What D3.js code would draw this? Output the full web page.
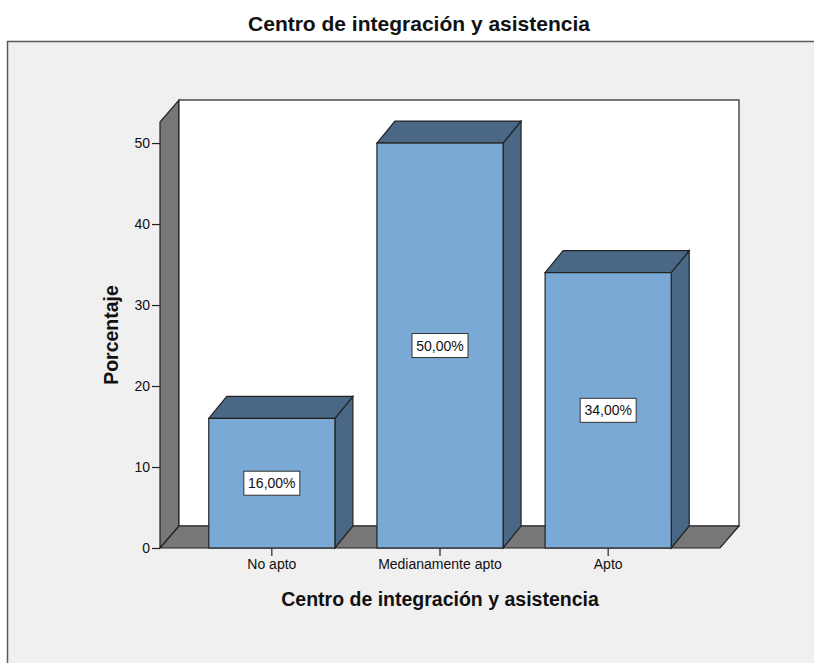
<!DOCTYPE html>
<html>
<head>
<meta charset="utf-8">
<script src="https://cdn.jsdelivr.net/npm/d3@7"></script>
<style>
  html, body { margin: 0; padding: 0; background: #ffffff; }
  svg { display: block; }
  text { font-family: "Liberation Sans", Arial, sans-serif; fill: #111; }
</style>
</head>
<body>
<script>
// Chart data
const categories = ["No apto", "Medianamente apto", "Apto"];
const percentages = [16, 50, 34];
const valueLabels = ["16,00%", "50,00%", "34,00%"];
const yTicks = [0, 10, 20, 30, 40, 50];
const chartTitle = "Centro de integración y asistencia";
const xTitle = "Centro de integración y asistencia";
const yTitle = "Porcentaje";

const W = 814, H = 663;
const svg = d3.select("body").append("svg").attr("width", W).attr("height", H);

// Outer panel
svg.append("rect").attr("x", 7.5).attr("y", 41.5).attr("width", 840).attr("height", 700)
  .attr("fill", "#f0f0f0").attr("stroke", "#5a5a5a").attr("stroke-width", 1.5);

// Title
svg.append("text").attr("x", 419).attr("y", 31).attr("text-anchor", "middle")
  .style("font-size", "21px").style("font-weight", "bold").text(chartTitle);

// Plot frame (front plane) and depth offset
const left = 160, right = 720, bottom = 548;
const depth = { dx: 19, dy: -22 };
const barDepth = { dx: 18, dy: -22 };

const y = d3.scaleLinear().domain([0, 52.6]).range([bottom, 122]);
const x = d3.scaleBand().domain(categories).range([left, right])
  .paddingInner(0.25).paddingOuter(0.29);

const stroke = "#222";
const line = d3.line();

// Left wall
svg.append("path")
  .attr("d", line([[left, y(0)], [left, y.range()[1]], [left + depth.dx, y.range()[1] + depth.dy], [left + depth.dx, y(0) + depth.dy]]) + "Z")
  .attr("fill", "#777777").attr("stroke", stroke).attr("stroke-width", 1.2);

// Back wall
svg.append("rect")
  .attr("x", left + depth.dx).attr("y", y.range()[1] + depth.dy)
  .attr("width", right - left).attr("height", y(0) - y.range()[1])
  .attr("fill", "#ffffff").attr("stroke", stroke).attr("stroke-width", 1.2);

// Floor
svg.append("path")
  .attr("d", line([[left, y(0)], [right, y(0)], [right + depth.dx, y(0) + depth.dy], [left + depth.dx, y(0) + depth.dy]]) + "Z")
  .attr("fill", "#777777").attr("stroke", stroke).attr("stroke-width", 1.2);

// Y axis
const yAxis = svg.append("g").attr("transform", `translate(${left},0)`)
  .call(d3.axisLeft(y).tickValues(yTicks).tickSize(8).tickPadding(2));
yAxis.select(".domain").remove();
yAxis.selectAll(".tick line").attr("stroke", "#222").attr("stroke-width", 1.2);
yAxis.selectAll(".tick text").style("font-size", "14px").style("font-family", "'Liberation Sans', Arial, sans-serif").attr("fill", "#222");

// X axis
const xAxis = svg.append("g").attr("transform", `translate(0,${bottom})`)
  .call(d3.axisBottom(x).tickSize(8).tickPadding(3));
xAxis.select(".domain").remove();
xAxis.selectAll(".tick line").attr("stroke", "#222").attr("stroke-width", 1.2);
xAxis.selectAll(".tick text").style("font-size", "14px").style("font-family", "'Liberation Sans', Arial, sans-serif").attr("fill", "#222");

// Bars
const bars = svg.append("g").selectAll("g").data(categories).join("g");
const frontColor = "#7ba9d6", shadeColor = "#4a6785";
bars.each(function (c, i) {
  const g = d3.select(this);
  const x0 = x(c), x1 = x(c) + x.bandwidth();
  const yt = y(percentages[i]), yb = y(0);
  const dx = barDepth.dx, dy = barDepth.dy;
  // side face
  g.append("path")
    .attr("d", line([[x1, yb], [x1, yt], [x1 + dx, yt + dy], [x1 + dx, yb + dy]]) + "Z")
    .attr("fill", shadeColor).attr("stroke", stroke).attr("stroke-width", 1.2);
  // top face
  g.append("path")
    .attr("d", line([[x0, yt], [x1, yt], [x1 + dx, yt + dy], [x0 + dx, yt + dy]]) + "Z")
    .attr("fill", shadeColor).attr("stroke", stroke).attr("stroke-width", 1.2);
  // front face
  g.append("rect").attr("x", x0).attr("y", yt).attr("width", x1 - x0).attr("height", yb - yt)
    .attr("fill", frontColor).attr("stroke", stroke).attr("stroke-width", 1.2);
  // value label
  const cx = x0 + x.bandwidth() / 2, cy = y(percentages[i] / 2);
  g.append("rect").attr("x", cx - 28).attr("y", cy - 12).attr("width", 56).attr("height", 24)
    .attr("fill", "#ffffff").attr("stroke", "#333").attr("stroke-width", 1);
  g.append("text").attr("x", cx).attr("y", cy + 5).attr("text-anchor", "middle")
    .style("font-size", "14px").text(valueLabels[i]);
});

// Axis titles
svg.append("text").attr("x", 440).attr("y", 606).attr("text-anchor", "middle")
  .style("font-size", "19.5px").style("font-weight", "bold").text(xTitle);
svg.append("text").attr("transform", "translate(118,335) rotate(-90)").attr("text-anchor", "middle")
  .style("font-size", "19.5px").style("font-weight", "bold").text(yTitle);
</script>
</body>
</html>
